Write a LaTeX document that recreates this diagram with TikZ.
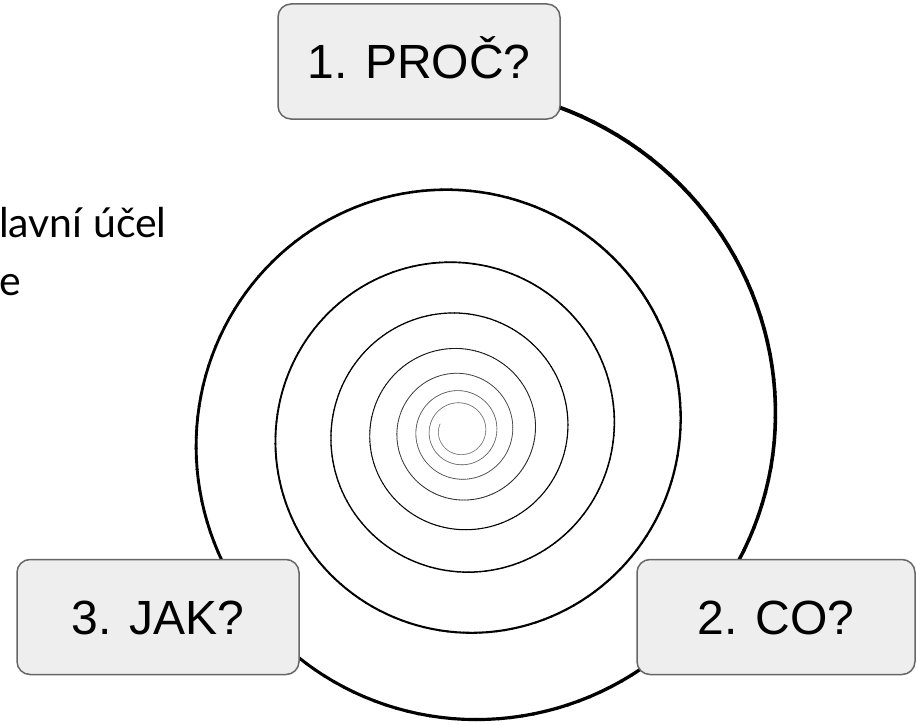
\documentclass[tikz,border=0pt]{standalone}
\usepackage{fontspec}
\setmainfont{Liberation Sans}
\newfontfamily\notefont{Lato}
\definecolor{boxfill}{HTML}{EEEEEE}
\definecolor{boxline}{HTML}{666666}
\begin{document}
\begin{tikzpicture}[x=1pt,y=-1pt,
  qbox/.style={draw=boxline, line width=1.5pt, fill=boxfill, rounded corners=13pt,
    minimum width=282pt, minimum height=115pt, inner sep=0pt,
    text height=35pt, text depth=0pt,
    font=\fontsize{48}{57}\selectfont, text=black},
  note/.style={anchor=base west, inner sep=0pt,
    font=\notefont\fontsize{41}{49}\selectfont, text=black}]
\useasboundingbox (0,0) rectangle (916,725);
% spiral (logarithmic, growing outward counter-clockwise)
\foreach \i in {0,...,1222} {
  \pgfmathsetmacro\ta{-47.47 + 0.04*\i}
  \pgfmathsetmacro\tb{\ta + 0.042}
  \pgfmathsetmacro\ra{315*exp(0.0569*\ta)}
  \pgfmathsetmacro\rb{315*exp(0.0569*\tb)}
  \pgfmathsetmacro\w{0.5+3.5*(\ra/345)^1.5}
  \pgfmathsetmacro\g{min(100,40+\ra*0.6)}
  \draw[line width=\w pt, color=black!\g, line cap=round]
    ({460+\ra*cos(\ta r)},{431-\ra*sin(\ta r)}) --
    ({460+\rb*cos(\tb r)},{431-\rb*sin(\tb r)});
}
\node[qbox] (why) at (419,61.5) {1. PROČ?};
\node[qbox, minimum width=278pt] (what) at (776,617) {2. CO?};
\node[qbox] (how) at (158,617) {3. JAK?};
\node[note] (n1) at (-1,237) {lavní účel};
\node[note] (n2) at (-1,295) {e};
\end{tikzpicture}
\end{document}
